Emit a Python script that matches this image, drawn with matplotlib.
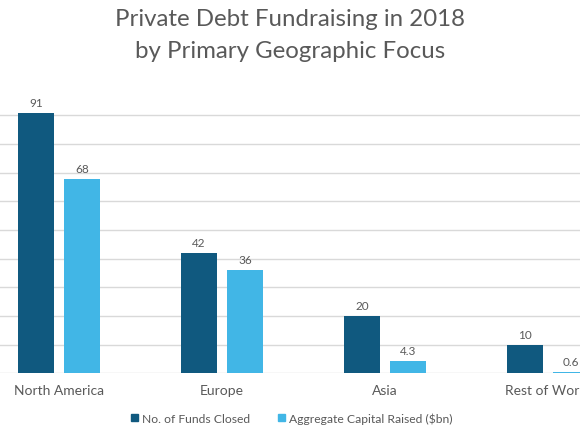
import matplotlib
matplotlib.use("Agg")
import matplotlib.pyplot as plt
from matplotlib.patches import Patch
import numpy as np

categories = ["North America", "Europe", "Asia", "Rest of World"]
funds_closed = [91, 42, 20, 10]
capital_raised = [68, 36, 4.3, 0.6]
funds_labels = ["91", "42", "20", "10"]
capital_labels = ["68", "36", "4.3", "0.6"]
series_names = ["No. of Funds Closed", "Aggregate Capital Raised ($bn)"]

DARK = "#10597f"
LIGHT = "#41b6e6"
TEXT = "#595959"
GRID = "#d9d9d9"

plt.rcParams['font.family'] = ['Lato', 'DejaVu Sans']

fig = plt.figure(figsize=(5.8, 4.35), dpi=100)
ax = fig.add_axes([-0.0388, 0.1395, 1.124, 0.6586])

x = np.arange(len(categories))
bw = 0.221
off = 0.141
b1 = ax.bar(x - off, funds_closed, bw, color=DARK, zorder=3)
b2 = ax.bar(x + off, capital_raised, bw, color=LIGHT, zorder=3)

for rect, lab in zip(b1, funds_labels):
    ax.annotate(lab, (rect.get_x() + rect.get_width() / 2, rect.get_height()),
                xytext=(0, 3.5), textcoords="offset points", ha="center", va="bottom",
                fontsize=8.5, color=TEXT)
for rect, lab in zip(b2, capital_labels):
    ax.annotate(lab, (rect.get_x() + rect.get_width() / 2, rect.get_height()),
                xytext=(0, 3.5), textcoords="offset points", ha="center", va="bottom",
                fontsize=8.5, color=TEXT)

ax.set_xlim(-0.5, len(categories) - 0.5)
ax.set_ylim(0, 100)
for yv in range(0, 100, 10):
    ax.axhline(yv, color=GRID, lw=1.0, zorder=1)
ax.set_yticks([])
ax.set_xticks(x)
ax.set_xticklabels(categories, fontsize=10, color=TEXT)
ax.tick_params(axis="x", length=0, pad=8)
for s in ax.spines.values():
    s.set_visible(False)

fig.text(0.5, 0.955, "Private Debt Fundraising in 2018", ha="center", va="center",
         fontsize=17.3, color=TEXT)
fig.text(0.5, 0.882, "by Primary Geographic Focus", ha="center", va="center",
         fontsize=17.3, color=TEXT)

handles = [Patch(color=DARK), Patch(color=LIGHT)]
fig.legend(handles, series_names, loc="center", bbox_to_anchor=(0.503, 0.037),
           ncol=2, frameon=False, fontsize=8.7, labelcolor=TEXT,
           handlelength=0.6, handleheight=0.6, handletextpad=0.3, columnspacing=2.3)

fig.savefig("out.png", dpi=100)
